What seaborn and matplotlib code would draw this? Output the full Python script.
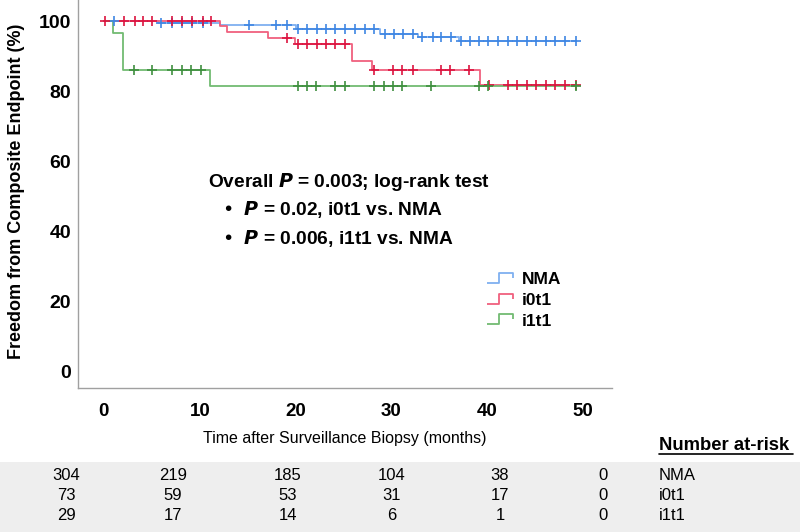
import numpy as np
import pandas as pd
import matplotlib
matplotlib.use("Agg")
import matplotlib.pyplot as plt
from matplotlib.path import Path
from matplotlib.lines import Line2D
from matplotlib.patches import Rectangle
import seaborn as sns

# ---------------- data ----------------
groups = ["NMA", "i0t1", "i1t1"]

nma_times = [0, 5.6, 12.1, 20.0, 28.8, 32.8, 37.0, 49.2]
nma_surv = [100, 99.4, 99.0, 97.7, 96.5, 95.6, 94.3, 94.3]
nma_censor = [1.1, 6.0, 7.1, 8.2, 9.2, 10.3, 15.1, 18.0, 19.1, 20.2, 21.2, 22.2,
              23.2, 24.1, 25.1, 26.2, 27.2, 28.2, 29.3, 30.3, 31.2, 32.2, 33.2,
              34.3, 35.2, 36.2, 37.2, 38.2, 39.1, 40.1, 41.1, 42.1, 43.1, 44.1,
              45.1, 46.1, 47.1, 48.1, 49.2]

i0t1_times = [0, 12.1, 12.8, 17.1, 19.9, 25.9, 28.0, 39.2, 49.2]
i0t1_surv = [100, 98.7, 96.9, 95.3, 93.6, 88.6, 86.1, 81.9, 81.9]
i0t1_censor = [0.1, 2.1, 3.2, 4.1, 5.0, 7.1, 8.2, 9.2, 10.3, 11.2, 19.1, 20.2,
               21.2, 22.2, 23.2, 24.1, 25.2, 28.2, 30.2, 31.1, 32.2, 35.2, 36.1,
               38.1, 40.2, 42.1, 43.1, 44.1, 45.1, 46.1, 47.1, 48.1, 49.2]

i1t1_times = [0, 1.0, 2.0, 11.1, 49.2]
i1t1_surv = [100, 96.6, 86.2, 81.5, 81.5]
i1t1_censor = [3.1, 5.0, 7.1, 8.1, 9.1, 10.1, 20.2, 21.2, 22.1, 24.1, 25.2, 28.2,
               29.2, 30.2, 31.1, 34.1, 39.1, 40.1, 49.2]

risk_times = [0, 10, 20, 30, 40, 50]
risk_nma = [304, 219, 185, 104, 38, 0]
risk_i0t1 = [73, 59, 53, 31, 17, 0]
risk_i1t1 = [29, 17, 14, 6, 1, 0]

x_ticks = [0, 10, 20, 30, 40, 50]
y_ticks = [0, 20, 40, 60, 80, 100]

line_cols = {"NMA": "#7fb0f0", "i0t1": "#f0607e", "i1t1": "#72bb72"}
mark_cols = {"NMA": "#3f86e3", "i0t1": "#dc1440", "i1t1": "#3f8f3f"}

curves = {
    "NMA": (nma_times, nma_surv, nma_censor),
    "i0t1": (i0t1_times, i0t1_surv, i0t1_censor),
    "i1t1": (i1t1_times, i1t1_surv, i1t1_censor),
}

# ---------------- figure ----------------
sns.set_theme(style="white")
plt.rcParams["font.family"] = ["Liberation Sans", "DejaVu Sans"]
plt.rcParams["text.color"] = "black"
plt.rcParams["xtick.color"] = "black"
plt.rcParams["ytick.color"] = "black"
narrow = ["Liberation Sans Narrow", "Liberation Sans", "DejaVu Sans"]

W, H = 800, 532
fig = plt.figure(figsize=(8, 5.32), dpi=100)
ax = fig.add_axes([78 / W, 1 - 388 / H, (612 - 78) / W, 388 / H])

for g in groups:
    t, s, c = curves[g]
    df = pd.DataFrame({"time": t, "surv": s})
    sns.lineplot(data=df, x="time", y="surv", drawstyle="steps-post",
                 estimator=None, color=line_cols[g], linewidth=1.3, ax=ax)

for g in groups:
    t, s, c = curves[g]
    idx = np.searchsorted(t, c, side="right") - 1
    cy = np.array(s)[np.clip(idx, 0, len(s) - 1)]
    sns.scatterplot(x=c, y=cy, marker="+", s=42, linewidth=1.2,
                    color=mark_cols[g], ax=ax, zorder=3)

ax.set_xlim(-2.7, 53.0)
ax.set_ylim(-4.7, 106.1)
ax.set_xticks(x_ticks)
ax.set_yticks(y_ticks)
ax.set_xlabel("")
ax.set_ylabel("")
ax.tick_params(axis="x", length=0, labelsize=13.5, pad=11)
ax.tick_params(axis="y", length=0, labelsize=14, pad=5)
for lab in ax.get_xticklabels() + ax.get_yticklabels():
    lab.set_fontweight("bold")
for side in ["top", "right"]:
    ax.spines[side].set_visible(False)
for side in ["left", "bottom"]:
    ax.spines[side].set_color("#a0a0a0")
    ax.spines[side].set_linewidth(1.0)

fig.text(17 / W, 1 - 191 / H, "Freedom from Composite Endpoint (%)",
         rotation=90, ha="center", va="center", fontsize=13, fontweight="bold")

# p-value annotation
fs = 13.8
fig.text(208 / W, 1 - 182 / H, r"Overall $\bfit{P}$ = 0.003; log-rank test",
         ha="left", va="center", fontsize=fs, fontweight="bold")
fig.text(222 / W, 1 - 210 / H, r"•  $\bfit{P}$ = 0.02, i0t1 vs. NMA",
         ha="left", va="center", fontsize=fs, fontweight="bold")
fig.text(222 / W, 1 - 238 / H, r"•  $\bfit{P}$ = 0.006, i1t1 vs. NMA",
         ha="left", va="center", fontsize=fs, fontweight="bold")

# legend with step-shaped handles
step = Path([(-1, -0.36), (-0.05, -0.36), (-0.05, 0.36), (0.95, 0.36), (0.95, 0.0)],
            [Path.MOVETO, Path.LINETO, Path.LINETO, Path.LINETO, Path.LINETO])
handles = [Line2D([], [], linestyle="none", marker=step, markersize=19,
                  markerfacecolor="none", markeredgecolor=line_cols[g],
                  markeredgewidth=1.3, label=g) for g in groups]
leg = fig.legend(handles=handles, loc="upper left",
                 bbox_to_anchor=(486 / W, 1 - 272 / H), frameon=False,
                 handlelength=1.6, handletextpad=0.45, labelspacing=0.32,
                 borderpad=0, borderaxespad=0, numpoints=1,
                 prop={"weight": "bold", "size": 12.5})

# x-axis title and number at risk table
fig.text(345 / W, 1 - 438 / H, "Time after Surveillance Biopsy (months)",
         ha="center", va="center", fontsize=11.5, family=narrow)
fig.text(659 / W, 1 - 446 / H, "Number at-risk", ha="left", va="center",
         fontsize=13.3, fontweight="bold", family=narrow)
fig.add_artist(Line2D([659 / W, 793 / W], [1 - 454 / H, 1 - 454 / H],
                      color="black", linewidth=1.2))
fig.add_artist(Rectangle((0, 0), 1, 1 - 462 / H, transform=fig.transFigure,
                         facecolor="#eeeeee", edgecolor="none", zorder=-1))

col_x = [66, 173, 288, 392, 500, 603]
row_y = [475, 496, 516]
for row, g, yy in zip([risk_nma, risk_i0t1, risk_i1t1], groups, row_y):
    for xx, v in zip(col_x, row):
        fig.text(xx / W, 1 - yy / H, str(v), ha="center", va="center",
                 fontsize=12, family=narrow)
    fig.text(659 / W, 1 - yy / H, g, ha="left", va="center",
             fontsize=12, family=narrow)

fig.savefig("out.png", dpi=100)
